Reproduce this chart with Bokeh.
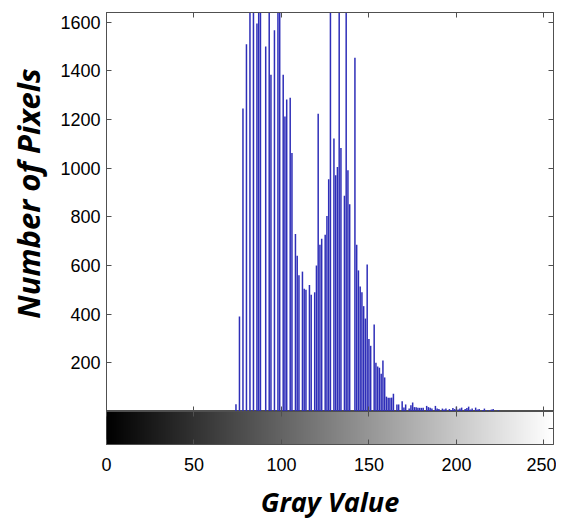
import numpy as np
from math import pi
from bokeh.plotting import figure
from bokeh.models import Range1d, LinearAxis, FixedTicker, LinearColorMapper
from bokeh.core.properties import value
from bokeh.layouts import column, row
from bokeh.embed import file_html
from bokeh.resources import INLINE

# ---- data ----
gray_values = [74, 76, 78, 80, 82, 84, 86, 87, 88, 91, 93, 94, 96, 98, 99,
               101, 102, 103, 105, 106, 108, 109, 110, 112, 113, 114, 116, 117,
               119, 120, 121, 122, 123, 125, 126, 127, 128, 130, 131, 132, 133,
               134, 136, 137, 138, 139, 142, 143, 144, 145, 146, 147, 148, 149,
               150, 151, 153, 154, 155, 156, 157, 158, 159, 160, 161, 162, 163,
               164, 166, 167, 169, 170, 171, 173, 174, 175, 176, 177, 178, 179,
               180, 181, 183, 184, 185, 186, 188, 189, 190, 192, 193, 194, 196,
               197, 198, 199, 200, 201, 202, 203, 205, 206, 207, 208, 209, 211,
               212, 213, 215, 216, 218, 220, 221, 224]
pixel_counts = [30, 390, 1245, 1510, 2100, 1900, 1595, 2000, 1850, 1500, 2200, 1384, 1567, 1800, 1950,
                1384, 1213, 1282, 1290, 1062, 730, 640, 560, 575, 505, 500, 520, 480,
                490, 600, 1224, 685, 710, 727, 804, 955, 2300, 1122, 971, 1005, 1900,
                1083, 887, 2000, 992, 852, 1454, 685, 580, 514, 490, 433, 382, 604,
                298, 270, 358, 200, 185, 180, 155, 210, 140, 61, 57, 57, 57,
                73, 29, 29, 42, 16, 29, 12, 26, 37, 18, 17, 15, 15,
                15, 15, 23, 18, 15, 12, 23, 12, 10, 12, 8, 12, 10,
                6, 14, 10, 20, 8, 12, 16, 10, 14, 20, 8, 12, 16,
                8, 10, 6, 12, 5, 8, 10, 5]
x_ticks = [0, 50, 100, 150, 200, 250]
y_ticks = [200, 400, 600, 800, 1000, 1200, 1400, 1600]
gradient_levels = list(range(256))
x_title = "Gray Value"
y_title = "Number of Pixels"

AXIS_COLOR = "#505050"
BAR_COLOR = "#2e2eb8"
TICK_FONT = "Liberation Sans"
LABEL_FONT = "Open Sans"

LABEL_W = 52


def style_axis(ax, ticks, labels=True, tick_in=5):
    ax.ticker = FixedTicker(ticks=ticks)
    ax.major_tick_in = tick_in
    ax.major_tick_out = 0
    ax.minor_tick_line_color = None
    ax.axis_line_color = AXIS_COLOR
    ax.major_tick_line_color = AXIS_COLOR
    if labels:
        ax.major_label_text_font = TICK_FONT
        ax.major_label_text_font_size = "18px"
        ax.major_label_text_color = "black"
    else:
        ax.major_label_text_font_size = "1px"
        ax.major_label_text_color = None
        ax.major_label_standoff = 0


# ---- y-axis title panel ----
pl = figure(width=LABEL_W, height=411, x_range=Range1d(0, 1), y_range=Range1d(0, 411),
            output_backend="svg", toolbar_location=None,
            x_axis_location=None, y_axis_location=None,
            min_border_left=0, min_border_right=0, min_border_top=0, min_border_bottom=0)
pl.xgrid.visible = False
pl.ygrid.visible = False
pl.outline_line_color = None
pl.text(x=[0.52], y=[218], text=[y_title], angle=pi / 2,
        text_align="center", text_baseline="middle",
        text_font=value(LABEL_FONT), text_font_style="bold italic",
        text_font_size="31px", text_color="black")

# ---- histogram ----
p1 = figure(width=556 - LABEL_W, height=411, x_range=Range1d(0, 255.5), y_range=Range1d(0, 1640),
            output_backend="svg", toolbar_location=None,
            min_border_left=106 - LABEL_W, min_border_right=3, min_border_top=12, min_border_bottom=0)
p1.xgrid.visible = False
p1.ygrid.visible = False
p1.outline_line_color = AXIS_COLOR

p1.segment(x0=gray_values, y0=0, x1=gray_values, y1=pixel_counts,
           line_color=BAR_COLOR, line_width=1.5)

style_axis(p1.xaxis[0], x_ticks, labels=False)
style_axis(p1.yaxis[0], y_ticks, labels=True)
p1.yaxis[0].major_label_standoff = 6

top1 = LinearAxis()
style_axis(top1, x_ticks, labels=False)
p1.add_layout(top1, "above")
right1 = LinearAxis()
style_axis(right1, y_ticks, labels=False)
p1.add_layout(right1, "right")

# ---- gray colorbar ----
p2 = figure(width=556 - LABEL_W, height=113, x_range=p1.x_range, y_range=Range1d(0, 1),
            output_backend="svg", toolbar_location=None, y_axis_location=None,
            min_border_left=106 - LABEL_W, min_border_right=3, min_border_top=0, min_border_bottom=80)
p2.xgrid.visible = False
p2.ygrid.visible = False
p2.outline_line_color = AXIS_COLOR

greys = ["#%02x%02x%02x" % (g, g, g) for g in gradient_levels]
mapper = LinearColorMapper(palette=greys, low=0, high=255)
p2.image(image=[np.array([gradient_levels], dtype=float)], x=0, y=0, dw=255.5, dh=1,
         color_mapper=mapper)

xa = p2.xaxis[0]
style_axis(xa, x_ticks, labels=True)
xa.major_label_standoff = 13
xa.axis_label = x_title
xa.axis_label_text_font = LABEL_FONT
xa.axis_label_text_font_style = "bold italic"
xa.axis_label_text_font_size = "27px"
xa.axis_label_text_color = "black"
xa.axis_label_standoff = 9

top2 = LinearAxis()
style_axis(top2, x_ticks, labels=False)
p2.add_layout(top2, "above")
right2 = LinearAxis()
style_axis(right2, [0.5], labels=False)
p2.add_layout(right2, "right")

layout = row(pl, column(p1, p2))
open("out.html", "w").write(file_html(layout, INLINE))
